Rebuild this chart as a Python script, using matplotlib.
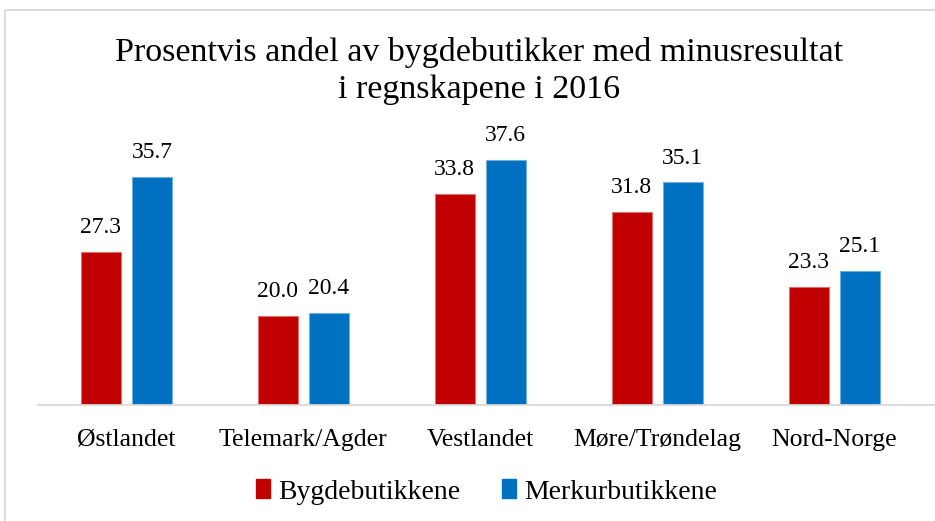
#!/usr/bin/env python3

import matplotlib
matplotlib.use('Agg')
import matplotlib.pyplot as plt
import matplotlib.patches as mpatches
import matplotlib.transforms as mtransforms
import numpy as np

# data
regions = ['Østlandet', 'Telemark/Agder', 'Vestlandet', 'Møre/Trøndelag', 'Nord-Norge']
bygde = [27.3, 20.0, 33.8, 31.8, 23.3]
merkur = [35.7, 20.4, 37.6, 35.1, 25.1]
series_names = ['Bygdebutikkene', 'Merkurbutikkene']

RED = '#C00000'
BLUE = '#0070C0'
FONT = 'Liberation Serif'

plt.rcParams['font.family'] = [FONT, 'DejaVu Serif']

fig = plt.figure(figsize=(9.35, 5.21), dpi=100)
ax = fig.add_axes([38 / 935, 1 - 405 / 521, 897 / 935, (405 - 139) / 521])

x = np.arange(len(regions))
width = 0.226
off = 0.144

b1 = ax.bar(x - off, bygde, width, color=RED, edgecolor='#E07070', linewidth=0.8)
b2 = ax.bar(x + off, merkur, width, color=BLUE, edgecolor='#70B0E0', linewidth=0.8)

for bars, vals in ((b1, bygde), (b2, merkur)):
    for rect, v in zip(bars, vals):
        ax.annotate(f'{v:.1f}', (rect.get_x() + rect.get_width() / 2, v),
                    xytext=(0, 10), textcoords='offset points',
                    ha='center', va='bottom', fontsize=17, color='#000000')

ax.set_ylim(10, 40)
ax.set_xlim(-0.5, len(regions) - 0.5 + 0.07)
ax.set_yticks([])
ax.set_xticks(x)
ax.set_xticklabels([])
ax.tick_params(axis='x', length=0)

# category labels on a common baseline, 41 px under the axis line
trans = mtransforms.blended_transform_factory(ax.transData, ax.transAxes) + \
    mtransforms.ScaledTranslation(0, -41 / 100, fig.dpi_scale_trans)
for xi, name in zip(x, regions):
    ax.text(xi, 0, name, transform=trans, ha='center', va='baseline', fontsize=18.5)

for side in ('top', 'right', 'left'):
    ax.spines[side].set_visible(False)
ax.spines['bottom'].set_color('#D9D9D9')
ax.spines['bottom'].set_linewidth(1.3)

fig.text(0.512, 1 - 71 / 521, 'Prosentvis andel av bygdebutikker med minusresultat\ni regnskapene i 2016',
         ha='center', va='center', fontsize=24.5, linespacing=1.25)

handles = [mpatches.Patch(color=RED), mpatches.Patch(color=BLUE)]
fig.legend(handles, series_names, loc='center', bbox_to_anchor=(487 / 935, 1 - 492 / 521),
           ncol=2, frameon=False, fontsize=20, handlelength=0.5, handleheight=0.65,
           handletextpad=0.3, columnspacing=1.5)

# outer chart border (partly cut off at right and bottom)
fig.patches.append(mpatches.Rectangle((5 / 935, -0.1), 1.2, 1.1 - 10 / 521,
                                      transform=fig.transFigure, fill=False,
                                      edgecolor='#D9D9D9', linewidth=1.3))

plt.savefig('out.png', dpi=100)
